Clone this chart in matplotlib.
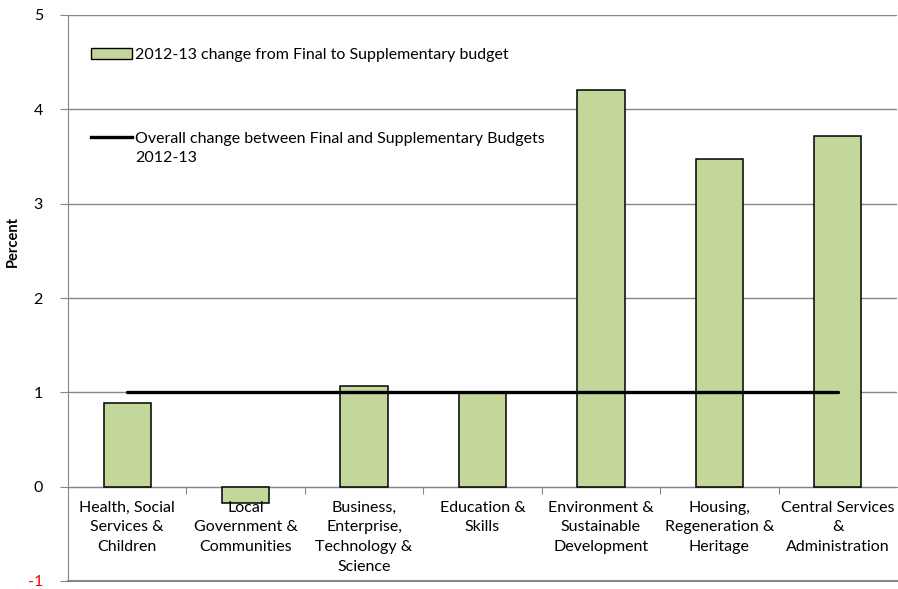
import matplotlib
matplotlib.use("Agg")
import matplotlib.pyplot as plt
from matplotlib.patches import Patch
from matplotlib.lines import Line2D

categories = [
    "Health, Social\nServices &\nChildren",
    "Local\nGovernment &\nCommunities",
    "Business,\nEnterprise,\nTechnology &\nScience",
    "Education &\nSkills",
    "Environment &\nSustainable\nDevelopment",
    "Housing,\nRegeneration &\nHeritage",
    "Central Services\n&\nAdministration",
]
changes = [0.89, -0.17, 1.07, 0.99, 4.21, 3.47, 3.72]
overall = [1.0] * len(categories)
y_ticks = [-1, 0, 1, 2, 3, 4, 5]
bar_label = "2012-13 change from Final to Supplementary budget"
line_label = "Overall change between Final and Supplementary Budgets\n2012-13"

plt.rcParams['font.family'] = ['Lato', 'DejaVu Sans']

W, H = 898, 589
fig = plt.figure(figsize=(W / 100, H / 100), dpi=100)
ax = fig.add_axes([68 / W, 1 - 581 / H, 829 / W, (581 - 15) / H])

FS = 11.5
grid_c = "#868686"
x = list(range(len(categories)))
bars = ax.bar(x, changes, width=0.4, color="#c4d79b", edgecolor="black",
              linewidth=1.1, zorder=3)
line, = ax.plot(x, overall, color="black", linewidth=2.4, zorder=4,
                solid_capstyle="round")

ax.set_xlim(-0.5, len(categories) - 0.5)
ax.set_ylim(-1, 5)
ax.set_yticks(y_ticks)
ax.set_yticklabels([str(v) for v in y_ticks], fontsize=FS)
ax.get_yticklabels()[0].set_color("red")
ax.tick_params(axis="y", length=6, color=grid_c, pad=12)
ax.yaxis.grid(True, color=grid_c, linewidth=1.0, zorder=0)
ax.set_axisbelow(True)

for s in ["top", "right"]:
    ax.spines[s].set_visible(False)
ax.spines["left"].set_color(grid_c)
ax.spines["bottom"].set_position(("data", 0))
ax.spines["bottom"].set_color(grid_c)
ax.axhline(-1, color=grid_c, linewidth=1.5, clip_on=False, zorder=1)

ax.set_xticks([i + 0.5 for i in x[:-1]])
ax.set_xticklabels([])
ax.tick_params(axis="x", length=5, color=grid_c)

for i, lab in zip(x, categories):
    ax.annotate(lab, xy=(i, 0), xytext=(0, -10), textcoords="offset points",
                ha="center", va="top", fontsize=FS, linespacing=1.52)

ax.set_ylabel("Percent", fontsize=10.5, fontweight="bold")
ax.yaxis.set_label_coords(-0.058, 0.60)

h1 = Patch(facecolor="#c4d79b", edgecolor="black", linewidth=1.0)
leg1 = ax.legend([h1], [bar_label], loc="center left",
                 bbox_to_anchor=(0.0277, 0.929), frameon=False, fontsize=FS,
                 borderpad=0, borderaxespad=0, handlelength=2.6,
                 handleheight=0.6, handletextpad=0.15)
ax.add_artist(leg1)
h2 = Line2D([], [], color="black", linewidth=2.4)
leg2 = ax.legend([h2], [line_label], loc="center left",
                 bbox_to_anchor=(0.0277, 0.764), frameon=False, fontsize=FS,
                 borderpad=0, borderaxespad=0, handlelength=2.6,
                 handletextpad=0.15)
for t in leg2.get_texts():
    t.set_linespacing(1.5)
try:
    for col in leg2._legend_handle_box.get_children():
        for hp in col.get_children():
            hp.align = "top"
except Exception:
    pass

fig.savefig("out.png", dpi=100)
